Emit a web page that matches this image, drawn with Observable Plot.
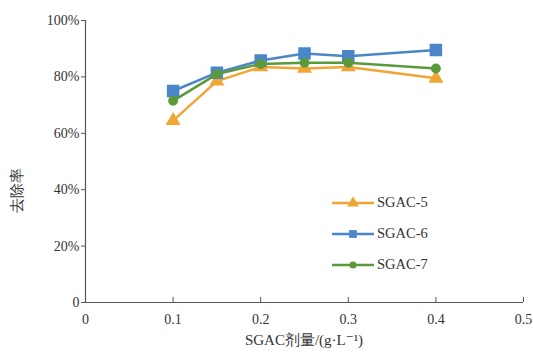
<!DOCTYPE html>
<html><head><meta charset="utf-8">
<script src="https://cdn.jsdelivr.net/npm/d3@7"></script>
<script src="https://cdn.jsdelivr.net/npm/@observablehq/plot@0.6"></script>
<style>
body{margin:0;background:#fff;}
#wrap{position:relative;width:533px;height:352px;font-family:"Liberation Serif","DejaVu Serif",serif;}
#wrap svg text{font-family:"Liberation Serif","DejaVu Serif",serif;}
#legend{position:absolute;left:332px;top:187px;font-size:14.5px;color:#333;}
#legend div{display:flex;align-items:center;height:31px;}
#legend svg{margin-right:3px;}
</style></head>
<body><div id="wrap"><div id="legend"></div></div>
<script>
const doses = [0.1, 0.15, 0.2, 0.25, 0.3, 0.4];
const sgac5 = [64.5, 78.5, 83.5, 83, 83.5, 79.5];
const sgac6 = [75, 81.5, 85.8, 88.3, 87.3, 89.5];
const sgac7 = [71.5, 81, 84.6, 85, 85, 83];
const seriesNames = ["SGAC-5", "SGAC-6", "SGAC-7"];
const seriesColors = ["#f0a534", "#4a86c8", "#5a9a3c"];
const seriesSymbols = ["triangle", "square", "circle"];
const xTicks = [0, 0.1, 0.2, 0.3, 0.4, 0.5];
const yTicks = [0, 20, 40, 60, 80, 100];

const vals = [sgac5, sgac6, sgac7];
const data = [];
vals.forEach((arr, s) => arr.forEach((v, i) => data.push({series: seriesNames[s], x: doses[i], y: v})));

const serif = "Liberation Serif, DejaVu Serif, serif";
const marks = [
  Plot.ruleX([0], {stroke: "#555", strokeWidth: 1.2}),
  Plot.ruleY([0], {stroke: "#555", strokeWidth: 1.2}),
  Plot.ruleX(xTicks.slice(1), {y1: 0, y2: 1.8, stroke: "#555"}),
  Plot.axisY({ticks: yTicks, tickSize: 4, tickFormat: d => d === 0 ? "0" : d + "%", label: null, fontSize: 14, fontFamily: serif, tickPadding: 2, stroke: "#555", fill: "#333"}),
  Plot.axisX({ticks: xTicks, tickSize: 0, tickFormat: d => d === 0 ? "0" : String(d), label: null, fontSize: 14, fontFamily: serif, tickPadding: 12, fill: "#333"})
];
seriesNames.forEach((name, s) => {
  const d = data.filter(r => r.series === name);
  marks.push(Plot.line(d, {x: "x", y: "y", stroke: seriesColors[s], strokeWidth: 2.5}));
  marks.push(Plot.dot(d, {x: "x", y: "y", fill: seriesColors[s], stroke: seriesColors[s], symbol: seriesSymbols[s], r: s === 0 ? 4.6 : s === 1 ? 6.2 : 4.2}));
});

const chart = Plot.plot({
  width: 533, height: 352,
  marginLeft: 85, marginRight: 10, marginTop: 20, marginBottom: 50,
  style: {fontFamily: serif, background: "#fff", color: "#333"},
  x: {domain: [0, 0.5]},
  y: {domain: [0, 100]},
  marks
});
const wrap = document.getElementById("wrap");
wrap.insertBefore(chart, wrap.firstChild);

// axis titles
const svg = d3.select(chart);
svg.append("text").attr("x", 304).attr("y", 345).attr("text-anchor", "middle")
  .attr("font-size", 15).attr("fill", "#333").text("SGAC剂量/(g·L⁻¹)");
svg.append("text").attr("transform", "translate(22,190) rotate(-90)").attr("text-anchor", "middle")
  .attr("font-size", 15).attr("fill", "#333").text("去除率");

// legend
const leg = d3.select("#legend");
seriesNames.forEach((name, s) => {
  const row = leg.append("div");
  const sv = row.append("svg").attr("width", 42).attr("height", 14);
  sv.append("line").attr("x1", 0).attr("x2", 42).attr("y1", 7).attr("y2", 7).attr("stroke", seriesColors[s]).attr("stroke-width", 2.5);
  const sym = d3.symbol().type(s === 0 ? d3.symbolTriangle : s === 1 ? d3.symbolSquare : d3.symbolCircle).size(s === 2 ? 40 : 60);
  sv.append("path").attr("d", sym()).attr("transform", "translate(21,7)").attr("fill", seriesColors[s]);
  row.append("span").text(name);
});
</script></body></html>
